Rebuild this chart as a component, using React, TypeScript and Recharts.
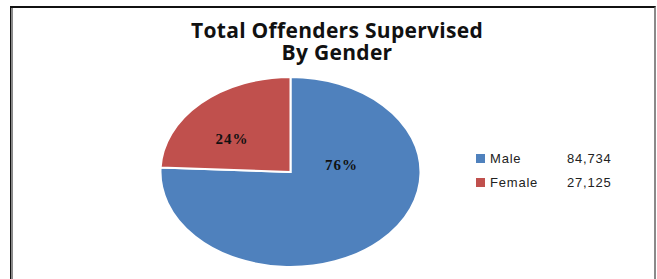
import React from "react";
import { PieChart, Pie, Cell } from "recharts";

const categories = ["Male", "Female"];
const offenders = [84734, 27125];
const colors = ["#4F81BD", "#C0504D"];
const titleLines = ["Total Offenders Supervised", "By Gender"];

const data = categories.map((name, i) => ({ name, value: offenders[i] }));
const total = offenders.reduce((a, b) => a + b, 0);

const W = 657;
const H = 279;
const RX = 130;
const RY = 95;
const SY = RY / RX;
const RAD = Math.PI / 180;

const pt = (cx: number, cy: number, rx: number, ry: number, a: number) => [
  cx + rx * Math.cos(a * RAD),
  cy - ry * Math.sin(a * RAD),
];

const EllipseSector = (props: any) => {
  const { cx, cy, outerRadius, startAngle, endAngle, fill } = props;
  const rx = outerRadius;
  const ry = outerRadius * SY;
  const [x1, y1] = pt(cx, cy, rx, ry, startAngle);
  const [x2, y2] = pt(cx, cy, rx, ry, endAngle);
  const large = Math.abs(endAngle - startAngle) > 180 ? 1 : 0;
  const sweep = startAngle > endAngle ? 1 : 0;
  const d = `M${cx},${cy} L${x1},${y1} A${rx},${ry} 0 ${large} ${sweep} ${x2},${y2} Z`;
  return <path d={d} fill={fill} stroke="#ffffff" strokeWidth={2} strokeLinejoin="miter" />;
};

// label anchors (angle in degrees, fraction of radius) per slice
const labelAnchor: Record<string, [number, number]> = {
  Male: [11, 0.4],
  Female: [142, 0.57],
};

const renderLabel = (props: any) => {
  const { cx, cy, outerRadius, name, value } = props;
  const [ang, f] = labelAnchor[name] || [props.midAngle, 0.5];
  const [x, y] = pt(cx, cy, outerRadius * f, outerRadius * SY * f, ang);
  const pct = Math.round((value / total) * 100);
  return (
    <text
      x={x}
      y={y}
      textAnchor="middle"
      dominantBaseline="central"
      fontFamily="'Liberation Serif', 'Times New Roman', serif"
      fontWeight="bold"
      fontSize={15}
      letterSpacing={1}
      fill="#111"
    >
      {pct}%
    </text>
  );
};

export default function App() {
  return (
    <div
      style={{
        position: "fixed",
        left: 0,
        top: 0,
        width: W,
        height: H,
        background: "#fff",
        overflow: "hidden",
      }}
    >
      <div
        style={{
          position: "absolute",
          left: 10,
          top: 6,
          width: 643,
          height: 320,
          borderTop: "2px solid #111",
          borderLeft: "1px solid #111",
          borderRight: "2px solid #8a8a8a",
          boxShadow: "inset 2px 0 0 #8a8a8a",
        }}
      />
      {titleLines.map((t, i) => (
        <div
          key={t}
          style={{
            position: "absolute",
            left: 0,
            top: 20 + i * 22,
            width: 674,
            textAlign: "center",
            fontFamily: "'Open Sans', sans-serif",
            fontWeight: "bold",
            fontSize: 21,
            letterSpacing: 0.3,
            lineHeight: "20px",
            color: "#111",
            whiteSpace: "nowrap",
          }}
        >
          {t}
        </div>
      ))}
      <div style={{ position: "absolute", left: 0, top: 0 }}>
        <PieChart width={W} height={H} margin={{ top: 0, right: 0, bottom: 0, left: 0 }}>
          <Pie
            data={data}
            dataKey="value"
            nameKey="name"
            cx={290.5}
            cy={172}
            outerRadius={RX}
            startAngle={90}
            endAngle={-270}
            isAnimationActive={false}
            shape={EllipseSector}
            label={renderLabel}
            labelLine={false}
            stroke="#fff"
          >
            {data.map((d, i) => (
              <Cell key={d.name} fill={colors[i]} />
            ))}
          </Pie>
        </PieChart>
      </div>
      {data.map((d, i) => (
        <div
          key={d.name}
          style={{
            position: "absolute",
            left: 476,
            top: 150 + i * 24,
            height: 16,
            display: "flex",
            alignItems: "center",
            fontFamily: "'Liberation Sans', Arial, sans-serif",
            fontSize: 13,
            letterSpacing: 0.8,
            color: "#222",
          }}
        >
          <span style={{ width: 9, height: 9, background: colors[i], display: "inline-block" }} />
          <span style={{ marginLeft: 5, width: 77 }}>{d.name}</span>
          <span>{d.value.toLocaleString("en-US")}</span>
        </div>
      ))}
    </div>
  );
}
